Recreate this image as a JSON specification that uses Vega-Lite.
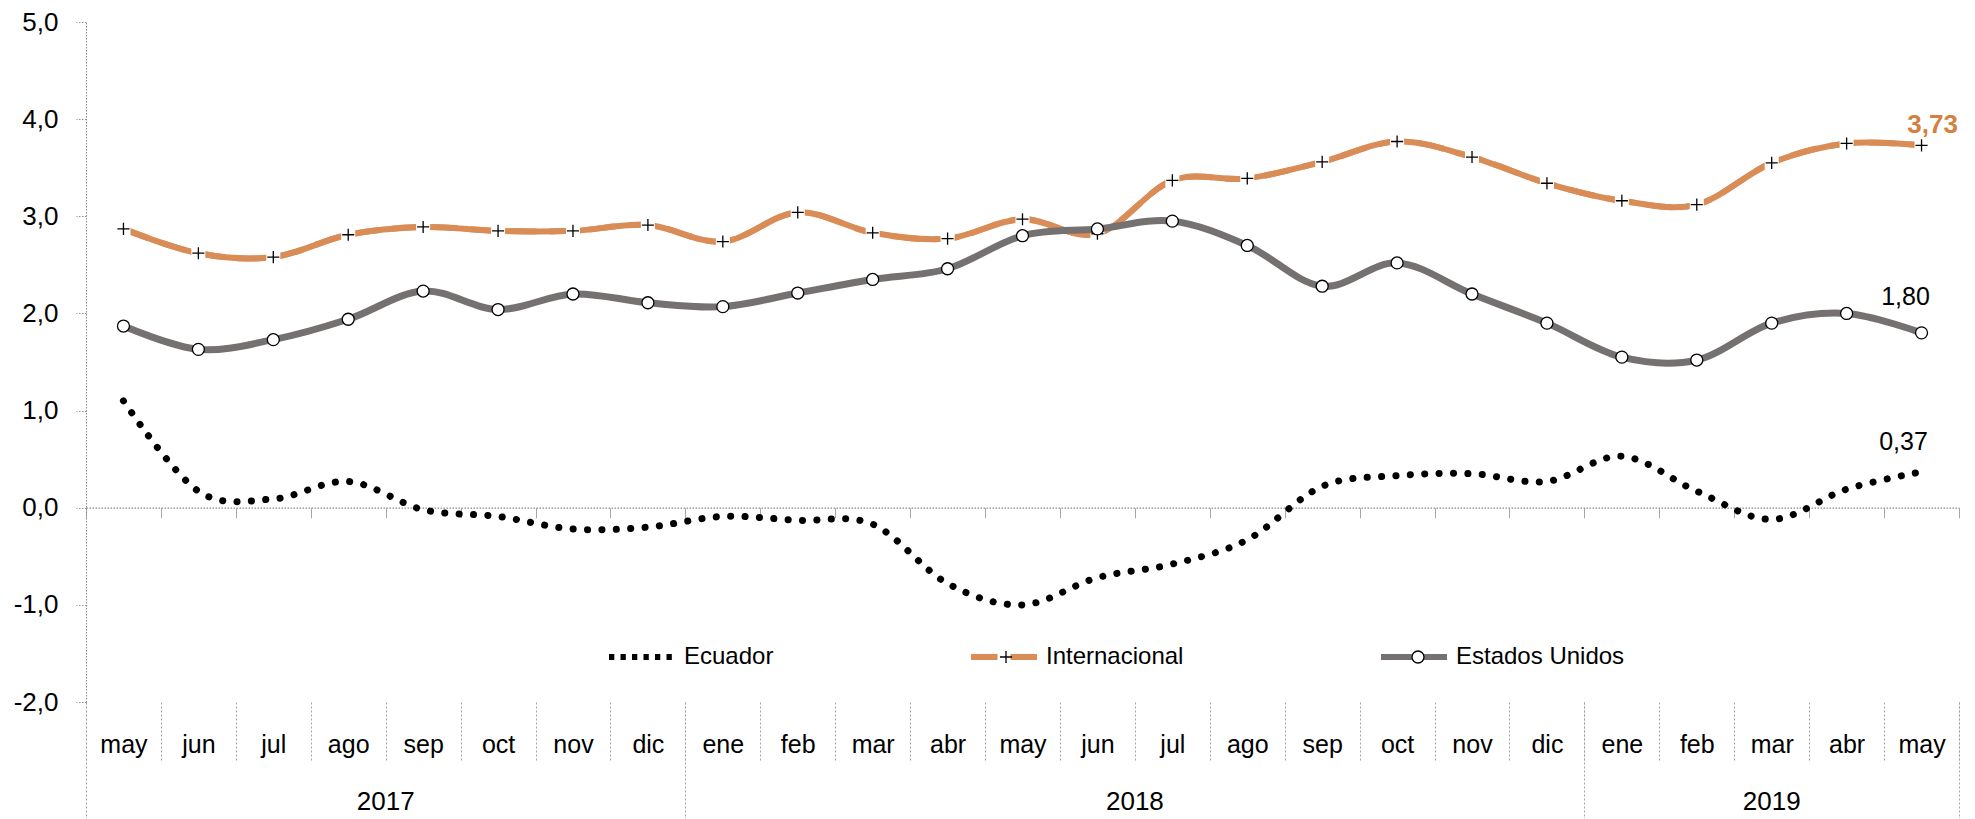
{
  "$schema": "https://vega.github.io/schema/vega-lite/v6.json",
  "width": 1873,
  "height": 680,
  "autosize": {"type": "none"},
  "padding": {"left": 86, "top": 22, "right": 16, "bottom": 117},
  "background": "white",
  "config": {
    "locale": {"number": {"decimal": ",", "thousands": ".", "grouping": [3], "currency": ["", " €"], "minus": "-"}},
    "view": {"stroke": null},
    "font": "Liberation Sans",
    "axis": {"labelFont": "Liberation Sans", "labelColor": "black", "grid": false, "title": null},
    "legend": {"labelFont": "Liberation Sans", "labelColor": "black"}
  },
  "data": {"values": [
    {"mes": "may-2017", "serie": "Ecuador", "valor": 1.10},
    {"mes": "jun-2017", "serie": "Ecuador", "valor": 0.17},
    {"mes": "jul-2017", "serie": "Ecuador", "valor": 0.09},
    {"mes": "ago-2017", "serie": "Ecuador", "valor": 0.27},
    {"mes": "sep-2017", "serie": "Ecuador", "valor": -0.02},
    {"mes": "oct-2017", "serie": "Ecuador", "valor": -0.09},
    {"mes": "nov-2017", "serie": "Ecuador", "valor": -0.22},
    {"mes": "dic-2017", "serie": "Ecuador", "valor": -0.20},
    {"mes": "ene-2018", "serie": "Ecuador", "valor": -0.09},
    {"mes": "feb-2018", "serie": "Ecuador", "valor": -0.13},
    {"mes": "mar-2018", "serie": "Ecuador", "valor": -0.17},
    {"mes": "abr-2018", "serie": "Ecuador", "valor": -0.78},
    {"mes": "may-2018", "serie": "Ecuador", "valor": -1.00},
    {"mes": "jun-2018", "serie": "Ecuador", "valor": -0.72},
    {"mes": "jul-2018", "serie": "Ecuador", "valor": -0.58},
    {"mes": "ago-2018", "serie": "Ecuador", "valor": -0.33},
    {"mes": "sep-2018", "serie": "Ecuador", "valor": 0.22},
    {"mes": "oct-2018", "serie": "Ecuador", "valor": 0.33},
    {"mes": "nov-2018", "serie": "Ecuador", "valor": 0.35},
    {"mes": "dic-2018", "serie": "Ecuador", "valor": 0.27},
    {"mes": "ene-2019", "serie": "Ecuador", "valor": 0.53},
    {"mes": "feb-2019", "serie": "Ecuador", "valor": 0.17},
    {"mes": "mar-2019", "serie": "Ecuador", "valor": -0.12},
    {"mes": "abr-2019", "serie": "Ecuador", "valor": 0.19},
    {"mes": "may-2019", "serie": "Ecuador", "valor": 0.37},
    {"mes": "may-2017", "serie": "Internacional", "valor": 2.87},
    {"mes": "jun-2017", "serie": "Internacional", "valor": 2.62},
    {"mes": "jul-2017", "serie": "Internacional", "valor": 2.58},
    {"mes": "ago-2017", "serie": "Internacional", "valor": 2.81},
    {"mes": "sep-2017", "serie": "Internacional", "valor": 2.89},
    {"mes": "oct-2017", "serie": "Internacional", "valor": 2.85},
    {"mes": "nov-2017", "serie": "Internacional", "valor": 2.85},
    {"mes": "dic-2017", "serie": "Internacional", "valor": 2.91},
    {"mes": "ene-2018", "serie": "Internacional", "valor": 2.74},
    {"mes": "feb-2018", "serie": "Internacional", "valor": 3.04},
    {"mes": "mar-2018", "serie": "Internacional", "valor": 2.83},
    {"mes": "abr-2018", "serie": "Internacional", "valor": 2.77},
    {"mes": "may-2018", "serie": "Internacional", "valor": 2.97},
    {"mes": "jun-2018", "serie": "Internacional", "valor": 2.82},
    {"mes": "jul-2018", "serie": "Internacional", "valor": 3.37},
    {"mes": "ago-2018", "serie": "Internacional", "valor": 3.39},
    {"mes": "sep-2018", "serie": "Internacional", "valor": 3.56},
    {"mes": "oct-2018", "serie": "Internacional", "valor": 3.77},
    {"mes": "nov-2018", "serie": "Internacional", "valor": 3.61},
    {"mes": "dic-2018", "serie": "Internacional", "valor": 3.34},
    {"mes": "ene-2019", "serie": "Internacional", "valor": 3.16},
    {"mes": "feb-2019", "serie": "Internacional", "valor": 3.12},
    {"mes": "mar-2019", "serie": "Internacional", "valor": 3.55},
    {"mes": "abr-2019", "serie": "Internacional", "valor": 3.75},
    {"mes": "may-2019", "serie": "Internacional", "valor": 3.73},
    {"mes": "may-2017", "serie": "Estados Unidos", "valor": 1.87},
    {"mes": "jun-2017", "serie": "Estados Unidos", "valor": 1.63},
    {"mes": "jul-2017", "serie": "Estados Unidos", "valor": 1.73},
    {"mes": "ago-2017", "serie": "Estados Unidos", "valor": 1.94},
    {"mes": "sep-2017", "serie": "Estados Unidos", "valor": 2.23},
    {"mes": "oct-2017", "serie": "Estados Unidos", "valor": 2.04},
    {"mes": "nov-2017", "serie": "Estados Unidos", "valor": 2.20},
    {"mes": "dic-2017", "serie": "Estados Unidos", "valor": 2.11},
    {"mes": "ene-2018", "serie": "Estados Unidos", "valor": 2.07},
    {"mes": "feb-2018", "serie": "Estados Unidos", "valor": 2.21},
    {"mes": "mar-2018", "serie": "Estados Unidos", "valor": 2.35},
    {"mes": "abr-2018", "serie": "Estados Unidos", "valor": 2.46},
    {"mes": "may-2018", "serie": "Estados Unidos", "valor": 2.80},
    {"mes": "jun-2018", "serie": "Estados Unidos", "valor": 2.87},
    {"mes": "jul-2018", "serie": "Estados Unidos", "valor": 2.95},
    {"mes": "ago-2018", "serie": "Estados Unidos", "valor": 2.70},
    {"mes": "sep-2018", "serie": "Estados Unidos", "valor": 2.28},
    {"mes": "oct-2018", "serie": "Estados Unidos", "valor": 2.52},
    {"mes": "nov-2018", "serie": "Estados Unidos", "valor": 2.20},
    {"mes": "dic-2018", "serie": "Estados Unidos", "valor": 1.90},
    {"mes": "ene-2019", "serie": "Estados Unidos", "valor": 1.55},
    {"mes": "feb-2019", "serie": "Estados Unidos", "valor": 1.52},
    {"mes": "mar-2019", "serie": "Estados Unidos", "valor": 1.90},
    {"mes": "abr-2019", "serie": "Estados Unidos", "valor": 2.00},
    {"mes": "may-2019", "serie": "Estados Unidos", "valor": 1.80}
  ]},
  "encoding": {
    "y": {
      "field": "valor", "type": "quantitative",
      "scale": {"domain": [-2, 5], "nice": false, "zero": false},
      "axis": {
        "values": [-2, -1, 0, 1, 2, 3, 4, 5], "format": ".1f", "title": null, "grid": false,
        "domainColor": "#8c8c8c", "domainDash": [1.5, 1.5], "domainWidth": 1,
        "tickColor": "#8c8c8c", "tickDash": [1.5, 1.5], "tickSize": 10, "tickWidth": 1,
        "labelFontSize": 26, "labelPadding": 18, "labelColor": "black", "labelFont": "Liberation Sans"
      }
    }
  },
  "layer": [
    {
      "transform": [{"filter": "datum.serie === 'Internacional'"}],
      "mark": {"type": "line", "interpolate": "cardinal", "strokeWidth": 6},
      "encoding": {
        "x": {"field": "mes", "type": "ordinal",
          "scale": {"type": "band", "paddingInner": 0, "paddingOuter": 0, "domain": ["may-2017","jun-2017","jul-2017","ago-2017","sep-2017","oct-2017","nov-2017","dic-2017","ene-2018","feb-2018","mar-2018","abr-2018","may-2018","jun-2018","jul-2018","ago-2018","sep-2018","oct-2018","nov-2018","dic-2018","ene-2019","feb-2019","mar-2019","abr-2019","may-2019"]},
          "axis": {"orient": "bottom", "offset": -194.29, "labels": false, "domain": true, "domainColor": "#8c8c8c", "domainDash": [1.5, 1.5], "domainWidth": 1.2, "ticks": true, "tickBand": "extent", "tickSize": 10, "tickColor": "#a6a6a6", "tickWidth": 1, "title": null, "grid": false}
        },
        "stroke": {"field": "serie", "type": "nominal",
          "scale": {"domain": ["Ecuador", "Internacional", "Estados Unidos"], "range": ["black", "#D98C56", "#767171"]},
          "legend": {"title": null, "orient": "none", "legendX": 520, "legendY": 599, "direction": "horizontal", "columnPadding": 185, "labelOffset": 6, "labelFontSize": 24, "labelColor": "black", "labelFont": "Liberation Sans", "labelLimit": 0, "symbolType": "stroke", "symbolSize": 4356, "symbolStrokeWidth": 6, "padding": 0}
        },
        "strokeDash": {"field": "serie", "type": "nominal",
          "scale": {"domain": ["Ecuador", "Internacional", "Estados Unidos"], "range": [[5.3, 6.2], [26.5, 13], [1, 0]]},
          "legend": {"title": null, "orient": "none", "legendX": 520, "legendY": 599, "direction": "horizontal", "columnPadding": 185, "labelOffset": 6, "labelFontSize": 24, "labelColor": "black", "labelFont": "Liberation Sans", "labelLimit": 0, "symbolType": "stroke", "symbolSize": 4356, "symbolStrokeWidth": 6, "padding": 0}
        }
      }
    },
    {
      "transform": [{"filter": "datum.serie === 'Ecuador'"}],
      "mark": {"type": "line", "interpolate": "cardinal", "color": "black", "strokeWidth": 7, "strokeCap": "round", "strokeDash": [0.1, 14.3]},
      "encoding": {
        "x": {"field": "mes", "type": "ordinal",
          "scale": {"type": "band", "paddingInner": 0, "paddingOuter": 0, "domain": ["may-2017","jun-2017","jul-2017","ago-2017","sep-2017","oct-2017","nov-2017","dic-2017","ene-2018","feb-2018","mar-2018","abr-2018","may-2018","jun-2018","jul-2018","ago-2018","sep-2018","oct-2018","nov-2018","dic-2018","ene-2019","feb-2019","mar-2019","abr-2019","may-2019"]},
          "axis": {"orient": "bottom", "domain": false, "ticks": true, "tickBand": "extent", "tickSize": 58, "tickColor": "#a0a0a0", "tickDash": [2, 2], "tickWidth": 1, "labelExpr": "isString(datum.value) ? split(datum.value, '-')[0] : ''", "labelFontSize": 25, "labelBaseline": "alphabetic", "labelPadding": -8, "labelAngle": 0, "labelOverlap": false, "labelColor": "black", "title": null, "grid": false}
        }
      }
    },
    {
      "transform": [{"filter": "datum.serie === 'Internacional'"}],
      "mark": {"type": "line", "interpolate": "cardinal", "color": "#D98C56", "strokeWidth": 6},
      "encoding": {
        "x": {"field": "mes", "type": "ordinal",
          "scale": {"type": "band", "paddingInner": 0, "paddingOuter": 0, "domain": ["may-2017","jun-2017","jul-2017","ago-2017","sep-2017","oct-2017","nov-2017","dic-2017","ene-2018","feb-2018","mar-2018","abr-2018","may-2018","jun-2018","jul-2018","ago-2018","sep-2018","oct-2018","nov-2018","dic-2018","ene-2019","feb-2019","mar-2019","abr-2019","may-2019"]},
          "axis": {"orient": "bottom", "values": ["may-2017", "ene-2018", "ene-2019"], "bandPosition": 0, "domain": false, "labels": false, "ticks": true, "tickSize": 117, "tickColor": "#a0a0a0", "tickDash": [2, 2], "tickWidth": 1, "title": null, "grid": false}
        }
      }
    },
    {
      "transform": [{"filter": "datum.serie === 'Internacional'"}],
      "mark": {"type": "point", "shape": "square", "size": 196, "filled": true, "color": "white", "opacity": 1, "strokeWidth": 0},
      "encoding": {
        "x": {"field": "mes", "type": "ordinal",
          "scale": {"type": "band", "paddingInner": 0, "paddingOuter": 0, "domain": ["may-2017","jun-2017","jul-2017","ago-2017","sep-2017","oct-2017","nov-2017","dic-2017","ene-2018","feb-2018","mar-2018","abr-2018","may-2018","jun-2018","jul-2018","ago-2018","sep-2018","oct-2018","nov-2018","dic-2018","ene-2019","feb-2019","mar-2019","abr-2019","may-2019"]},
          "axis": {"orient": "bottom", "values": ["may-2019"], "bandPosition": 1, "domain": false, "labels": false, "ticks": true, "tickSize": 117, "tickColor": "#a0a0a0", "tickDash": [2, 2], "tickWidth": 1, "title": null, "grid": false}
        }
      }
    },
    {
      "transform": [{"filter": "datum.serie === 'Estados Unidos'"}],
      "mark": {"type": "line", "interpolate": "cardinal", "color": "#767171", "strokeWidth": 7},
      "encoding": {
        "x": {"field": "mes", "type": "ordinal",
          "scale": {"type": "band", "paddingInner": 0, "paddingOuter": 0, "domain": ["may-2017","jun-2017","jul-2017","ago-2017","sep-2017","oct-2017","nov-2017","dic-2017","ene-2018","feb-2018","mar-2018","abr-2018","may-2018","jun-2018","jul-2018","ago-2018","sep-2018","oct-2018","nov-2018","dic-2018","ene-2019","feb-2019","mar-2019","abr-2019","may-2019"]},
          "axis": {"orient": "bottom", "values": ["ago-2017", "jun-2018", "mar-2019"], "domain": false, "ticks": false, "tickSize": 0, "labelExpr": "split(datum.value, '-')[1]", "labelFontSize": 26, "labelBaseline": "alphabetic", "labelPadding": 107, "labelOffset": {"condition": {"test": "datum.value === 'mar-2019'", "value": 0}, "value": 37.46}, "labelAngle": 0, "labelOverlap": false, "labelColor": "black", "title": null, "grid": false}
        }
      }
    },
    {
      "transform": [{"filter": "datum.serie !== 'Ecuador'"}],
      "mark": {"type": "point", "filled": true, "fill": "white", "stroke": "black", "strokeWidth": 1.3, "size": 121, "opacity": 1},
      "encoding": {
        "x": {"field": "mes", "type": "ordinal",
          "scale": {"type": "band", "paddingInner": 0, "paddingOuter": 0, "domain": ["may-2017","jun-2017","jul-2017","ago-2017","sep-2017","oct-2017","nov-2017","dic-2017","ene-2018","feb-2018","mar-2018","abr-2018","may-2018","jun-2018","jul-2018","ago-2018","sep-2018","oct-2018","nov-2018","dic-2018","ene-2019","feb-2019","mar-2019","abr-2019","may-2019"]},
          "axis": null
        },
        "shape": {"field": "serie", "type": "nominal", "sort": ["Internacional", "Estados Unidos"],
          "scale": {"range": ["M-1.1,0L1.1,0M0,-1.1L0,1.1", "M1.09,0A1.09,1.09,0,1,1,-1.09,0A1.09,1.09,0,1,1,1.09,0Z"]},
          "legend": {"title": null, "orient": "none", "legendX": 908, "legendY": 623, "direction": "horizontal", "columnPadding": 388, "labelExpr": "''", "labelFontSize": 24, "labelOffset": 0, "symbolSize": 121, "symbolStrokeWidth": 1.3, "symbolOpacity": 1, "padding": 0}
        }
      }
    },
    {
      "transform": [{"filter": "datum.serie === 'Internacional' && datum.mes === 'may-2019'"}],
      "mark": {"type": "text", "dx": 11, "dy": -12, "baseline": "alphabetic", "align": "center", "fontSize": 26, "fontWeight": "bold", "color": "#D4803E", "font": "Liberation Sans"},
      "encoding": {
        "x": {"field": "mes", "type": "ordinal",
          "scale": {"type": "band", "paddingInner": 0, "paddingOuter": 0, "domain": ["may-2017","jun-2017","jul-2017","ago-2017","sep-2017","oct-2017","nov-2017","dic-2017","ene-2018","feb-2018","mar-2018","abr-2018","may-2018","jun-2018","jul-2018","ago-2018","sep-2018","oct-2018","nov-2018","dic-2018","ene-2019","feb-2019","mar-2019","abr-2019","may-2019"]},
          "axis": null
        },
        "text": {"field": "valor", "type": "quantitative", "format": ".2f"}
      }
    },
    {
      "transform": [{"filter": "datum.serie === 'Estados Unidos' && datum.mes === 'may-2019'"}],
      "mark": {"type": "text", "dx": -16, "dy": -28, "baseline": "alphabetic", "align": "center", "fontSize": 25, "color": "black", "font": "Liberation Sans"},
      "encoding": {
        "x": {"field": "mes", "type": "ordinal",
          "scale": {"type": "band", "paddingInner": 0, "paddingOuter": 0, "domain": ["may-2017","jun-2017","jul-2017","ago-2017","sep-2017","oct-2017","nov-2017","dic-2017","ene-2018","feb-2018","mar-2018","abr-2018","may-2018","jun-2018","jul-2018","ago-2018","sep-2018","oct-2018","nov-2018","dic-2018","ene-2019","feb-2019","mar-2019","abr-2019","may-2019"]},
          "axis": null
        },
        "text": {"field": "valor", "type": "quantitative", "format": ".2f"}
      }
    },
    {
      "transform": [{"filter": "datum.serie === 'Ecuador' && datum.mes === 'may-2019'"}],
      "mark": {"type": "text", "dx": -18, "dy": -22, "baseline": "alphabetic", "align": "center", "fontSize": 25, "color": "black", "font": "Liberation Sans"},
      "encoding": {
        "x": {"field": "mes", "type": "ordinal",
          "scale": {"type": "band", "paddingInner": 0, "paddingOuter": 0, "domain": ["may-2017","jun-2017","jul-2017","ago-2017","sep-2017","oct-2017","nov-2017","dic-2017","ene-2018","feb-2018","mar-2018","abr-2018","may-2018","jun-2018","jul-2018","ago-2018","sep-2018","oct-2018","nov-2018","dic-2018","ene-2019","feb-2019","mar-2019","abr-2019","may-2019"]},
          "axis": null
        },
        "text": {"field": "valor", "type": "quantitative", "format": ".2f"}
      }
    }
  ],
  "resolve": {"axis": {"x": "independent"}}
}
